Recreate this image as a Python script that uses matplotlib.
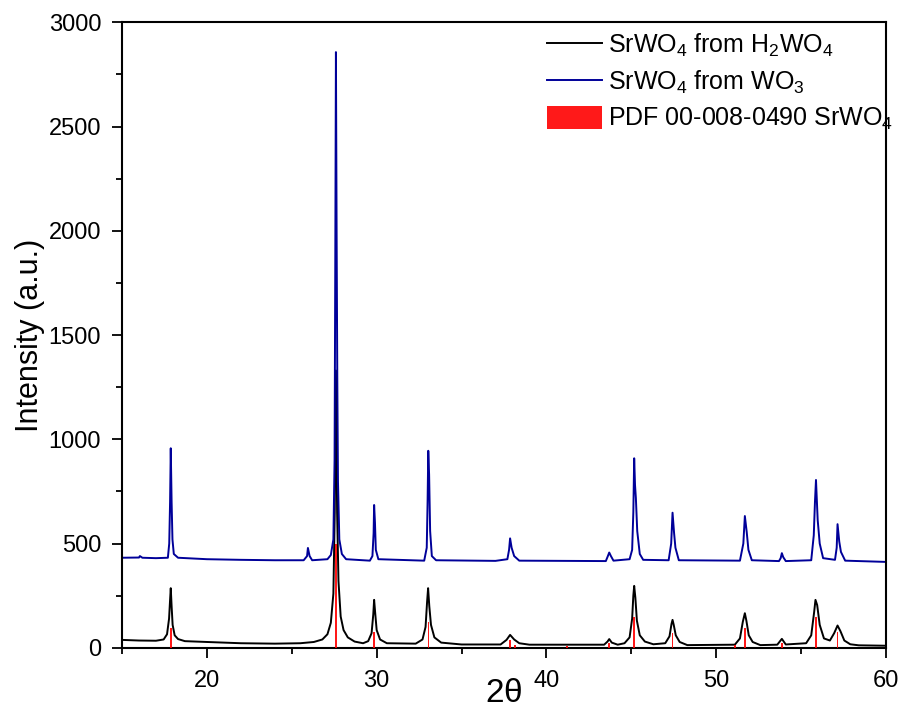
import numpy as np
import matplotlib
matplotlib.use("Agg")
import matplotlib.pyplot as plt

plt.rcParams['font.family'] = ['Liberation Sans', 'DejaVu Sans']
plt.rcParams['mathtext.fontset'] = 'custom'
plt.rcParams['mathtext.rm'] = 'Liberation Sans'
plt.rcParams['mathtext.it'] = 'Liberation Sans'

# SrWO4 from H2WO4 (traced points, 2theta / intensity)
h2wo4_x = [15.0, 16.0, 17.0, 17.45, 17.65, 17.77, 17.83, 17.87, 17.92, 17.98, 18.1, 18.3,
           18.7, 20.0, 22.0, 24.0, 25.5, 26.3, 26.8, 27.1, 27.3, 27.45, 27.53, 27.6,
           27.67, 27.75, 27.88, 28.05, 28.3, 28.7, 29.2, 29.5, 29.7, 29.8, 29.85, 29.91,
           30.0, 30.2, 30.6, 32.3, 32.7, 32.88, 32.97, 33.03, 33.1, 33.2, 33.4, 33.8,
           35.0, 37.3, 37.65, 37.86, 38.1, 38.4, 39.0, 43.4, 43.6, 43.7, 43.85, 44.2,
           44.6, 44.9, 45.05, 45.12, 45.17, 45.24, 45.33, 45.5, 45.8, 46.3, 47.0, 47.25,
           47.37, 47.43, 47.5, 47.62, 47.85, 48.3, 51.1, 51.4, 51.57, 51.69, 51.78, 51.92,
           52.15, 52.6, 53.6, 53.87, 54.1, 55.3, 55.6, 55.77, 55.85, 55.95, 56.1, 56.35,
           56.7, 56.95, 57.15, 57.32, 57.55, 57.9, 58.4, 60.0]
h2wo4_y = [38, 35, 34, 40, 65, 140, 230, 286, 200, 110, 60, 42,
           32, 28, 22, 20, 22, 28, 40, 65, 120, 260, 650, 1330,
           650, 320, 150, 85, 50, 30, 22, 32, 70, 160, 230, 170,
           85, 40, 22, 20, 40, 100, 220, 286, 200, 110, 50, 25,
           16, 16, 38, 62, 40, 22, 15, 15, 30, 42, 25, 15,
           22, 50, 140, 250, 297, 240, 130, 60, 30, 17, 22, 55,
           115, 134, 110, 60, 28, 13, 15, 45, 125, 166, 130, 60,
           28, 13, 15, 43, 16, 22, 60, 170, 230, 205, 110, 45,
           35, 70, 107, 80, 35, 17, 12, 10]

# SrWO4 from WO3 (traced points)
wo3_x = [15.0, 16.0, 16.05, 16.2, 17.0, 17.7, 17.78, 17.83, 17.87, 17.92, 17.97, 18.05,
         18.3, 20.0, 22.0, 24.0, 25.7, 25.9, 25.95, 26.05, 26.2, 27.1, 27.3, 27.45,
         27.52, 27.56, 27.6, 27.64, 27.68, 27.72, 27.8, 27.95, 28.2, 29.6, 29.75, 29.82,
         29.85, 29.9, 29.95, 30.1, 32.8, 32.95, 33.0, 33.04, 33.09, 33.15, 33.25, 33.5,
         37.0, 37.7, 37.8, 37.86, 37.95, 38.1, 38.4, 43.5, 43.62, 43.7, 43.8, 43.95,
         44.9, 45.05, 45.12, 45.17, 45.22, 45.27, 45.35, 45.5, 45.7, 47.2, 47.35, 47.43,
         47.52, 47.6, 47.8, 51.4, 51.6, 51.69, 51.8, 51.9, 52.1, 53.7, 53.8, 53.87,
         53.95, 54.1, 55.6, 55.75, 55.82, 55.88, 55.98, 56.1, 56.3, 57.0, 57.1, 57.15,
         57.25, 57.35, 57.6, 60.0]
wo3_y = [432, 433, 440, 432, 430, 432, 500, 700, 957, 700, 520, 450,
         432, 425, 422, 420, 420, 440, 479, 440, 420, 425, 445, 520,
         900, 1800, 2857, 2000, 1300, 800, 520, 450, 425, 418, 440, 550,
         685, 600, 470, 425, 418, 480, 700, 945, 830, 560, 440, 420,
         417, 425, 470, 525, 480, 440, 418, 416, 440, 457, 440, 418,
         425, 470, 650, 909, 780, 718, 560, 450, 422, 420, 500, 648,
         551, 480, 420, 418, 500, 632, 555, 470, 420, 416, 430, 454,
         435, 416, 420, 540, 700, 805, 613, 500, 430, 422, 480, 593,
         510, 460, 418, 412]

# PDF 00-008-0490 SrWO4 reference sticks
pdf_pos = [17.87, 27.6, 29.85, 33.05, 37.86, 38.16, 41.2, 43.7, 45.17, 47.43,
           51.12, 51.69, 53.87, 55.88, 57.15]
pdf_int = [97, 500, 78, 126, 38, 15, 10, 25, 150, 73, 15, 97, 25, 150, 74]

fig = plt.figure(figsize=(9.04, 7.19), dpi=100)
ax = fig.add_axes([0.135, 0.099, 0.845, 0.870])

ax.plot(h2wo4_x, h2wo4_y, color='black', lw=1.4, label='SrWO$_4$ from H$_2$WO$_4$')
ax.plot(wo3_x, wo3_y, color='#000099', lw=1.4, label='SrWO$_4$ from WO$_3$')
ax.bar(pdf_pos, pdf_int, width=0.09, color='red', alpha=0.9, zorder=3,
       label='PDF 00-008-0490 SrWO$_4$')

ax.set_xlim(15, 60)
ax.set_ylim(0, 3000)
ax.set_xticks([20, 30, 40, 50, 60])
ax.set_xticks([15, 25, 35, 45, 55], minor=True)
ax.set_yticks(np.arange(0, 3001, 500))
ax.set_yticks(np.arange(250, 3000, 500), minor=True)
ax.tick_params(which='both', direction='out', width=1.3, labelsize=17)
ax.tick_params(which='major', length=7)
ax.tick_params(which='minor', length=4)
ax.tick_params(axis='x', which='major', pad=9)
ax.tick_params(axis='y', which='major', pad=8)
for s in ax.spines.values():
    s.set_linewidth(1.5)

ax.set_xlabel(r'2$\theta$', fontsize=24, labelpad=-10)
ax.set_ylabel('Intensity (a.u.)', fontsize=22, labelpad=3)

leg = ax.legend(loc='upper left', bbox_to_anchor=(0.556, 0.985), frameon=False,
                fontsize=18, handlelength=2.2, handleheight=1.0, handletextpad=0.25,
                labelspacing=0.4, borderaxespad=0, borderpad=0)

fig.savefig('out.png', dpi=100)
